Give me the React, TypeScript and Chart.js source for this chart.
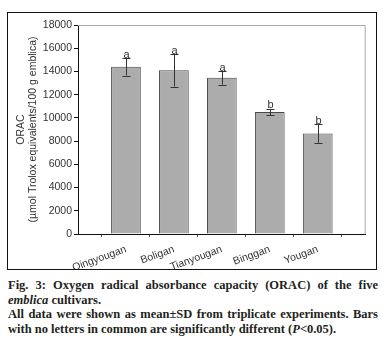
import React, { useEffect, useRef } from "react";
import { Chart, registerables } from "chart.js";

Chart.register(...registerables);

const categories = ["Qingyougan", "Boligan", "Tianyougan", "Binggan", "Yougan"];
const orac = [14400, 14100, 13450, 10500, 8650];
const sd = [750, 1400, 580, 280, 800];
const letters = ["a", "a", "a", "b", "b"];
const yTicks = [0, 2000, 4000, 6000, 8000, 10000, 12000, 14000, 16000, 18000];

const FONT = "'Liberation Sans', Arial, sans-serif";

const extrasPlugin = {
  id: "extras",
  afterDatasetsDraw(chart: any) {
    const { ctx, chartArea, scales } = chart;
    const meta = chart.getDatasetMeta(0);
    const y = scales.y;
    ctx.save();
    ctx.strokeStyle = "#a8a8a8";
    ctx.lineWidth = 1;
    ctx.beginPath();
    ctx.moveTo(chartArea.left, chartArea.top + 0.5);
    ctx.lineTo(chartArea.right - 0.5, chartArea.top + 0.5);
    ctx.lineTo(chartArea.right - 0.5, chartArea.bottom);
    ctx.stroke();
    ctx.strokeStyle = "#333";
    ctx.fillStyle = "#333";
    ctx.font = `11px ${FONT}`;
    ctx.textAlign = "center";
    ctx.textBaseline = "bottom";
    orac.forEach((v, i) => {
      const el = meta.data[i + 1];
      if (!el) return;
      const x = Math.round(el.x) + 0.5;
      const yt = y.getPixelForValue(v + sd[i]);
      const yb = y.getPixelForValue(v - sd[i]);
      ctx.beginPath();
      ctx.moveTo(x, yt);
      ctx.lineTo(x, yb);
      ctx.moveTo(x - 4, Math.round(yt) + 0.5);
      ctx.lineTo(x + 4, Math.round(yt) + 0.5);
      ctx.moveTo(x - 4, Math.round(yb) + 0.5);
      ctx.lineTo(x + 4, Math.round(yb) + 0.5);
      ctx.stroke();
      ctx.fillText(letters[i], x, yt + 2);
    });
    ctx.restore();
  },
};

const lineStyle: React.CSSProperties = { textAlign: "justify", textAlignLast: "justify" as any, whiteSpace: "nowrap" };
const lastStyle: React.CSSProperties = { textAlign: "left", whiteSpace: "nowrap" };

export default function App() {
  const ref = useRef<HTMLCanvasElement>(null);
  useEffect(() => {
    if (!ref.current) return;
    const labels = ["", ...categories, ""];
    const data = [null, ...orac, null];
    const chart = new Chart(ref.current, {
      type: "bar",
      data: {
        labels,
        datasets: [
          {
            data,
            backgroundColor: "#acacac",
            borderColor: "#4a4a4a",
            borderWidth: 1,
            barPercentage: 0.62,
            categoryPercentage: 1,
          },
        ],
      },
      options: {
        animation: false,
        responsive: false,
        devicePixelRatio: 1,
        layout: { padding: { left: 0, right: 7, top: 12, bottom: 0 } },
        plugins: { legend: { display: false }, tooltip: { enabled: false } },
        scales: {
          x: {
            type: "category",
            offset: false,
            grid: { display: true, drawOnChartArea: false, tickLength: 3, color: "#555" },
            border: { color: "#111", width: 1 },
            ticks: {
              autoSkip: false,
              minRotation: 20,
              maxRotation: 20,
              padding: 6,
              color: "#333",
              font: { family: FONT, size: 10.5 },
            },
            afterFit(scale: any) {
              scale.height = 35;
            },
          },
          y: {
            min: 0,
            max: 18000,
            afterBuildTicks(scale: any) {
              scale.ticks = yTicks.map((v) => ({ value: v }));
            },
            grid: { display: true, drawOnChartArea: false, tickLength: 4, color: "#111" },
            border: { color: "#111", width: 1 },
            ticks: {
              padding: 2,
              color: "#333",
              font: { family: FONT, size: 10.5 },
              callback: (v: any) => String(v),
            },
            title: {
              display: true,
              text: ["ORAC", "(µmol Trolox equivalents/100 g emblica)"],
              color: "#333",
              font: { family: FONT, size: 10.5, lineHeight: 1.15 },
              padding: { top: 7, bottom: 0 },
            },
            afterFit(scale: any) {
              scale.width = 70;
            },
          },
        },
      },
      plugins: [extrasPlugin],
    });
    return () => chart.destroy();
  }, []);

  return (
    <div style={{ position: "absolute", left: 0, top: 0, width: 388, height: 347, background: "#fff" }}>
      <div
        style={{
          position: "absolute",
          left: 7,
          top: 12,
          width: 368,
          height: 256,
          border: "1px solid #111",
        }}
      >
        <canvas ref={ref} width={368} height={256} style={{ display: "block", width: 368, height: 256 }} />
      </div>
      <div
        style={{
          position: "absolute",
          left: 8,
          top: 278,
          width: 370,
          fontFamily: "'Liberation Serif', 'Times New Roman', serif",
          fontSize: 12.5,
          fontWeight: "bold",
          lineHeight: "14.5px",
          color: "#231f20",
        }}
      >
        <div style={lineStyle}>Fig. 3: Oxygen radical absorbance capacity (ORAC) of the five</div>
        <div style={lastStyle}>
          <i>emblica</i> cultivars.
        </div>
        <div style={lineStyle}>All data were shown as mean±SD from triplicate experiments. Bars</div>
        <div style={lastStyle}>
          with no letters in common are significantly different (<i>P</i>&lt;0.05).
        </div>
      </div>
    </div>
  );
}
